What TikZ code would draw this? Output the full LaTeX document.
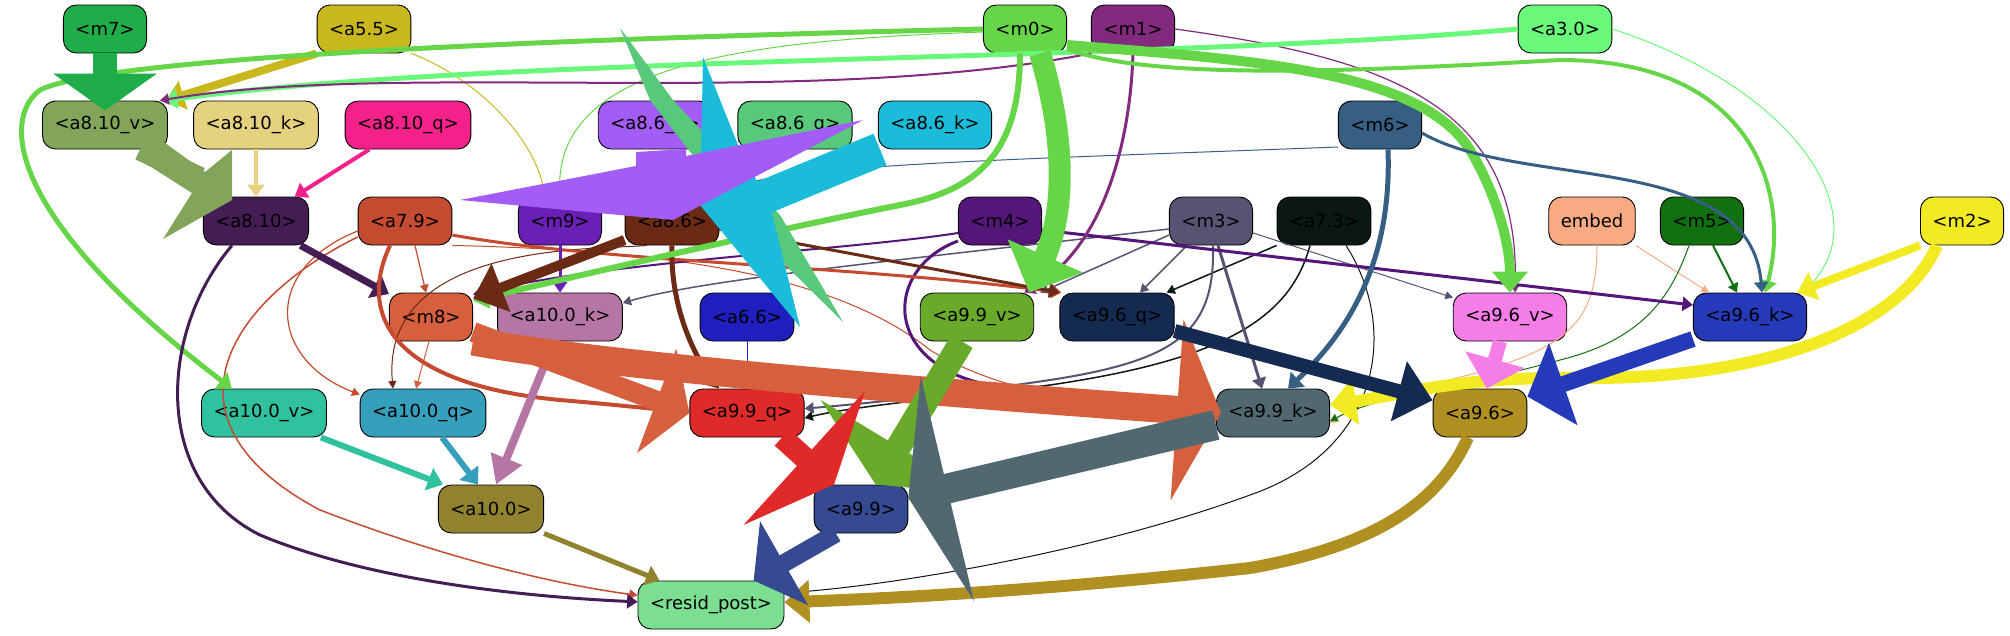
\documentclass[tikz,border=0pt]{standalone}
\usepackage{fontspec}
\setmainfont{DejaVu Sans}
\usetikzlibrary{arrows.meta}

\definecolor{cm7}{HTML}{1FAD4A}
\definecolor{ca55}{HTML}{C8B81E}
\definecolor{cm0}{HTML}{66D648}
\definecolor{cm1}{HTML}{822A7D}
\definecolor{ca30}{HTML}{6AF87A}
\definecolor{ca810v}{HTML}{82A55A}
\definecolor{ca810k}{HTML}{E5D27E}
\definecolor{ca810q}{HTML}{F5218A}
\definecolor{ca86v}{HTML}{A35CF5}
\definecolor{ca86q}{HTML}{58C87A}
\definecolor{ca86k}{HTML}{1BBCD9}
\definecolor{cm6}{HTML}{365F83}
\definecolor{ca810}{HTML}{451D55}
\definecolor{ca79}{HTML}{C44A30}
\definecolor{cm9}{HTML}{6A1FB5}
\definecolor{ca86}{HTML}{6A2A14}
\definecolor{cm4}{HTML}{55167A}
\definecolor{cm3}{HTML}{565373}
\definecolor{ca73}{HTML}{0B1714}
\definecolor{cemb}{HTML}{F8AA82}
\definecolor{cm5}{HTML}{127010}
\definecolor{cm2}{HTML}{F2EA22}
\definecolor{cm8}{HTML}{D6603E}
\definecolor{ca100k}{HTML}{B576A5}
\definecolor{ca66}{HTML}{1F1FBF}
\definecolor{ca99v}{HTML}{6AAA2A}
\definecolor{ca96q}{HTML}{152A50}
\definecolor{ca96v}{HTML}{F57DE8}
\definecolor{ca96k}{HTML}{243AB8}
\definecolor{ca100v}{HTML}{30C29E}
\definecolor{ca100q}{HTML}{36A0BC}
\definecolor{ca99q}{HTML}{E02A2A}
\definecolor{ca99k}{HTML}{526870}
\definecolor{ca96}{HTML}{B09020}
\definecolor{ca100}{HTML}{918230}
\definecolor{ca99}{HTML}{354A90}
\definecolor{cres}{HTML}{7BDE90}

\tikzset{
  nd/.style={draw=black, line width=0.9pt, rounded corners=13pt, minimum height=48pt,
    inner xsep=12pt, inner ysep=0pt, font=\fontsize{18}{20}\selectfont},
  ed/.style={line width=#1pt, -{Triangle[length=6pt 1.5, width=5pt 3]}},
}

\begin{document}
\begin{tikzpicture}[x=1pt, y=-1pt]
\useasboundingbox (0,0) rectangle (2010,635);

% nodes, row by row
\node[nd, fill=cm7] (m7) at (105,29) {<m7>};
\node[nd, fill=ca55] (a55) at (364,29) {<a5.5>};
\node[nd, fill=cm0] (m0) at (1025,29) {<m0>};
\node[nd, fill=cm1] (m1) at (1133,29) {<m1>};
\node[nd, fill=ca30] (a30) at (1565,29) {<a3.0>};

\node[nd, fill=ca810v] (a810v) at (105,125) {<a8.10\_v>};
\node[nd, fill=ca810k] (a810k) at (256,125) {<a8.10\_k>};
\node[nd, fill=ca810q] (a810q) at (408,125) {<a8.10\_q>};
\node[nd, fill=ca86v] (a86v) at (655,125) {<a8.6\_v>};
\node[nd, fill=ca86q] (a86q) at (795,125) {<a8.6\_q>};
\node[nd, fill=ca86k] (a86k) at (935,125) {<a8.6\_k>};
\node[nd, fill=cm6] (m6) at (1380,125) {<m6>};

\node[nd, fill=ca810] (a810) at (256,221) {<a8.10>};
\node[nd, fill=ca79] (a79) at (405,221) {<a7.9>};
\node[nd, fill=cm9] (m9) at (560,221) {<m9>};
\node[nd, fill=ca86] (a86) at (672,221) {<a8.6>};
\node[nd, fill=cm4] (m4) at (1000,221) {<m4>};
\node[nd, fill=cm3] (m3) at (1211,221) {<m3>};
\node[nd, fill=ca73] (a73) at (1324,221) {<a7.3>};
\node[nd, fill=cemb] (emb) at (1592,221) {embed};
\node[nd, fill=cm5] (m5) at (1702,221) {<m5>};
\node[nd, fill=cm2] (m2) at (1962,221) {<m2>};

\node[nd, fill=cm8] (m8) at (431,317) {<m8>};
\node[nd, fill=ca100k] (a100k) at (560,317) {<a10.0\_k>};
\node[nd, fill=ca66] (a66) at (747,317) {<a6.6>};
\node[nd, fill=ca99v] (a99v) at (977,317) {<a9.9\_v>};
\node[nd, fill=ca96q] (a96q) at (1117,317) {<a9.6\_q>};
\node[nd, fill=ca96v] (a96v) at (1510,317) {<a9.6\_v>};
\node[nd, fill=ca96k] (a96k) at (1750,317) {<a9.6\_k>};

\node[nd, fill=ca100v] (a100v) at (264,413) {<a10.0\_v>};
\node[nd, fill=ca100q] (a100q) at (423,413) {<a10.0\_q>};
\node[nd, fill=ca99q] (a99q) at (747,413) {<a9.9\_q>};
\node[nd, fill=ca99k] (a99k) at (1273,413) {<a9.9\_k>};
\node[nd, fill=ca96] (a96) at (1480,413) {<a9.6>};

\node[nd, fill=ca100] (a100) at (491,509) {<a10.0>};
\node[nd, fill=ca99] (a99) at (861,509) {<a9.9>};

\node[nd, fill=cres] (res) at (711,605) {<resid\_post>};

% thin edges
\draw[ed=1, ca55] (a55.south east) .. controls (480,80) and (535,140) .. ([xshift=-15]m9.north);
\draw[ed=1, cm0] ([yshift=-3]m0.west) .. controls (760,40) and (555,60) .. (m9.north);
\draw[ed=1, cm6] ([yshift=-22]m6.west) .. controls (1000,160) and (760,165) .. (a86.north east);
\draw[ed=1, ca86] ([xshift=-25]a86.south) .. controls (600,250) and (380,240) .. ([xshift=-30]a100q.north);
\draw[ed=1.2, ca79] ([yshift=-10]a79.west) .. controls (260,270) and (270,360) .. ([yshift=-6]a100q.north west);
\draw[ed=1.2, ca79] ([xshift=10]a79.south) -- ([xshift=-5]m8.north);
\draw[ed=1.5, ca79] ([yshift=-16]a79.west) .. controls (230,300) and (150,420) .. (320,510) .. controls (450,560) and (560,585) .. (res);
\draw[ed=1, ca79] (a79.south east) .. controls (650,250) and (830,270) .. (930,350) .. controls (1020,405) and (1150,408) .. (a99k);
\draw[ed=1, cm8] ([xshift=-2]m8.south) -- ([xshift=-7]a100q.north);
\draw[ed=1, ca66] (a66) -- (a99q);
\draw[ed=1.2, cm1] (m1.east) .. controls (1400,60) and (1520,110) .. ([xshift=5]a96v.north);
\draw[ed=1, ca30] (a30.east) .. controls (1800,90) and (1880,220) .. ([xshift=-5]a96k.north east);
\draw[ed=1, cemb] (emb.south east) -- ([xshift=16]a96k.north west);
\draw[ed=1, cemb] ([xshift=5]emb.south) .. controls (1597,320) and (1570,345) .. (1480,372) .. controls (1420,388) and (1370,395) .. ([yshift=-10]a99k.east);
\draw[ed=2, cm5] ([xshift=11]m5.south) -- ([xshift=-13]a96k.north);
\draw[ed=1, cm5] ([xshift=-13]m5.south) .. controls (1670,300) and (1640,340) .. (1560,360) .. controls (1450,390) and (1380,395) .. ([yshift=-8]a99k.east);
\draw[ed=1.5, ca73] (a73.south west) -- ([xshift=-8]a96q.north east);
\draw[ed=1.5, ca73] ([xshift=-14]a73.south) .. controls (1290,320) and (1220,360) .. (1050,385) .. controls (950,398) and (860,405) .. ([yshift=-5]a99q.east);
\draw[ed=1, ca73] ([xshift=22]a73.south) .. controls (1400,330) and (1380,450) .. (1250,495) .. controls (1100,550) and (900,585) .. ([yshift=12]res.east);
\draw[ed=1.5, cm3] ([yshift=-8]m3.west) .. controls (900,260) and (700,280) .. ([yshift=14]a100k.east);
\draw[ed=1.5, cm3] ([yshift=-14]m3.west) -- ([xshift=6]a99v.north east);
\draw[ed=1.5, cm3] ([xshift=-24]m3.south) -- ([xshift=23]a96q.north);
\draw[ed=3, cm3] ([xshift=7]m3.south) -- ([xshift=-11]a99k.north);
\draw[ed=2, cm3] ([xshift=2]m3.south) .. controls (1215,330) and (1180,360) .. (1050,380) .. controls (950,395) and (850,405) .. (a99q);
\draw[ed=1, cm3] ([yshift=-12]m3.east) -- ([yshift=-5]a96v.north west);
\draw[ed=2, cm4] ([yshift=-12]m4.west) .. controls (850,250) and (600,262) .. ([yshift=-2]m8.north east);
\draw[ed=3, cm4] ([yshift=-9]m4.east) -- ([yshift=12]a96k.west);
\draw[ed=3, cm4] ([yshift=-20]m4.west) .. controls (880,270) and (880,375) .. (1010,388) .. controls (1100,398) and (1160,408) .. (a99k);

% medium edges
\draw[ed=8, ca55] (a55.south west) -- ([xshift=-2]a810v.north east);
\draw[ed=5, ca30] (a30.west) .. controls (1150,62) and (500,55) .. ([xshift=-4]a810v.north east);
\draw[ed=2, cm1] (m1.south west) .. controls (800,110) and (400,60) .. ([xshift=-8]a810v.north east);
\draw[ed=5, cm0] (m0.west) .. controls (600,38) and (110,55) .. (40,90) .. controls (0,120) and (10,220) .. (a100v);
\draw[ed=4, ca810k] (a810k) -- (a810);
\draw[ed=4, ca810q] (a810q) -- (a810);
\draw[ed=7, ca810] (a810) -- (m8);
\draw[ed=3, ca810] ([xshift=-24]a810.south) .. controls (160,330) and (150,480) .. (260,535) .. controls (380,585) and (550,598) .. (res);
\draw[ed=4, ca79] ([xshift=-15]a79.south) .. controls (355,320) and (400,385) .. (560,400) .. controls (620,405) and (660,410) .. (a99q);
\draw[ed=3, ca79] ([yshift=-14]a79.east) .. controls (600,262) and (850,265) .. ([xshift=2]a96q.north west);
\draw[ed=3, cm9] (m9) -- (a100k);
\draw[ed=5, ca86] (a86.south) .. controls (670,300) and (690,350) .. ([xshift=-28]a99q.north);
\draw[ed=3, ca86] ([yshift=-8]a86.east) -- (a96q.north west);
\draw[ed=3, cm1] (m1.south) .. controls (1130,150) and (1100,250) .. ([xshift=-10]a99v.north east);
\draw[ed=6, cm0] ([xshift=-5]m0.south) .. controls (1020,150) and (980,190) .. (900,205) .. controls (750,235) and (560,280) .. ([yshift=-8]m8.north east);
\draw[ed=4, cm0] ([yshift=-20]m0.east) .. controls (1150,80) and (1350,72) .. (1560,60) .. controls (1760,60) and (1790,200) .. ([xshift=15]a96k.north);
\draw[ed=10, cm0] ([yshift=-16]m0.east) .. controls (1250,60) and (1420,70) .. (1470,150) .. controls (1500,200) and (1510,250) .. (a96v);
\draw[ed=5, cm6] ([xshift=8]m6.south) .. controls (1392,260) and (1350,330) .. ([xshift=15]a99k.north);
\draw[ed=3, cm6] ([yshift=-8]m6.east) .. controls (1520,190) and (1750,150) .. ([xshift=12]a96k.north);
\draw[ed=8, cm2] (m2.south west) -- ([xshift=-10]a96k.north east);
\draw[ed=12, cm2, -{Triangle[length=26pt, width=46pt]}] ([xshift=-25]m2.south) .. controls (1900,330) and (1760,380) .. (1580,378) .. controls (1460,376) and (1400,395) .. (a99k);
\draw[ed=8, ca100k, -{Triangle[length=28pt, width=32pt]}] ([xshift=-6]a100k.south) -- ([xshift=5]a100.north);
\draw[ed=6, ca100v] ([xshift=-6]a100v.south east) -- ([xshift=5]a100.north west);
\draw[ed=6, ca100q] ([xshift=19]a100q.south) -- ([xshift=-13]a100.north);
\draw[ed=5, ca100] (a100.south east) -- ([xshift=22]res.north west);

% heavy edges
\draw[ed=24, cm7, -{Triangle[length=37pt, width=102pt]}] (m7) -- ([yshift=-10]a810v.north);
\draw[ed=10, ca86, -{Triangle[length=30pt, width=50pt]}] ([yshift=-19]a86.west) -- ([yshift=-6]m8.north east);
\draw[ed=20, cm8, -{Triangle[length=35pt, width=110pt]}] ([yshift=-15]m8.east) -- (a99q.west);
\draw[ed=28, cm8, -{Triangle[length=44pt, width=180pt]}] (m8.south east) .. controls (600,365) and (900,390) .. ([xshift=5]a99k.west);
\draw[ed=22, cm0, -{Triangle[length=40pt, width=80pt]}] ([xshift=15]m0.south) .. controls (1060,120) and (1070,200) .. ([xshift=-5]a99v.north east);
\draw[ed=14, ca96q, -{Triangle[length=35pt, width=60pt]}] ([yshift=-14]a96q.east) -- (a96);
\draw[ed=14, ca96v, -{Triangle[length=30pt, width=60pt]}] ([xshift=-10]a96v.south) -- (a96);
\draw[ed=16, ca96k, -{Triangle[length=38pt, width=85pt]}] ([yshift=-22]a96k.west) -- (a96);
\draw[ed=12, ca96, -{Triangle[length=25pt, width=42pt]}] ([xshift=-12]a96.south) .. controls (1440,500) and (1380,545) .. (1250,568) .. controls (1050,590) and (900,598) .. (res);
\draw[ed=25, ca99v, -{Triangle[length=44pt, width=180pt]}] ([xshift=-15]a99v.south) -- (a99);
\draw[ed=30, ca99k, -{Triangle[length=40pt, width=230pt]}] ([yshift=-12]a99k.west) -- (a99);
\draw[ed=22, ca99q, -{Triangle[length=40pt, width=180pt]}] ([xshift=35]a99q.south) -- (a99);
\draw[ed=18, ca99, -{Triangle[length=35pt, width=95pt]}] ([xshift=-25]a99.south) -- (res);

% oversized heads round a8.10 and a8.6
\draw[ca810v, line width=22pt] ([xshift=35]a810v.south) -- (200,178);
\fill[ca810v] (161,140) -- (205,172) -- (232,150) -- (232,200) -- (163,239) -- (192,193) -- (148,165) -- cycle;
\fill[ca86q] (620,28) -- (673,100) -- (780,215) -- (843,322) -- (752,232) -- (650,100) -- cycle;
\draw[ca86k, line width=34pt] ([xshift=-55]a86k.south) -- (745,205);
\fill[ca86k] (703,57) -- (740,150) -- (770,205) -- (800,327) -- (700,205) -- cycle;
\fill[ca86v] (460,200) -- (636,166) -- (636,152) -- (686,149) -- (686,156) -- (863,120) -- (673,220) -- cycle;

\end{tikzpicture}
\end{document}
